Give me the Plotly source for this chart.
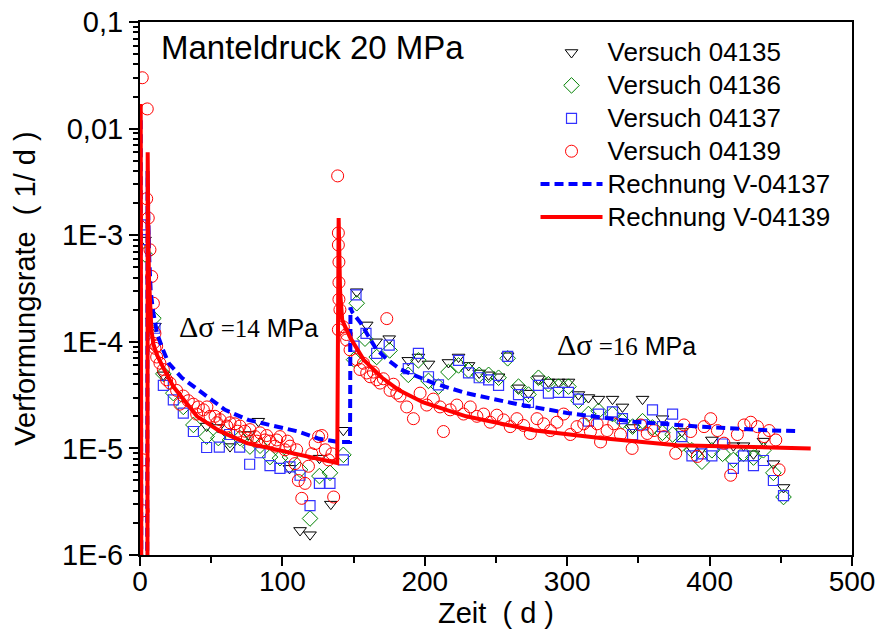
import plotly.graph_objects as go

# ---------------- data ----------------
t_04135 = [3.5, 10.5, 16.4, 46.8, 55, 63.2, 76, 83.1, 105, 112.4, 119.4, 126, 134, 142.8,
           152.2, 159.2, 165.8, 175, 188.4, 195.5, 202.6, 216.6, 223.7, 230.7, 238.2, 244.8,
           251.8, 258.2, 265.8, 272.8, 279.8, 286.8, 293.9, 300.9, 307.9, 314.9, 322, 331.8,
           338.8, 345.9, 352.9, 366.9, 380.5, 387.6, 394.6, 401.6, 416.7, 423.8, 430.8, 437.8,
           444.8, 451.9]
r_04135 = [9e-4, 1.4e-4, 4.9e-5, 1.62e-5, 1.57e-5, 1.04e-5, 1.35e-5, 1.8e-5, 6.5e-6, 1.7e-6,
           1.55e-6, 8.1e-6, 3.0e-6, 1.48e-5, 2.95e-4, 1.44e-4, 1.0e-4, 1.07e-4, 6.7e-5, 7.2e-5,
           6.2e-5, 6.4e-5, 7.2e-5, 6.0e-5, 5.1e-5, 4.9e-5, 4.7e-5, 7.4e-5, 3.7e-5, 3.3e-5,
           4.5e-5, 4.2e-5, 4.2e-5, 4.2e-5, 3.2e-5, 3.0e-5, 2.9e-5, 2.9e-5, 2.45e-5, 1.57e-5,
           2.9e-5, 1.9e-5, 1.44e-5, 1.0e-5, 1.0e-5, 1.2e-5, 1.06e-5, 1.06e-5, 8.9e-6, 1.17e-5,
           7.2e-6, 4.3e-6]

t_04136 = [3.5, 9.4, 16.4, 23.4, 30.4, 37.5, 46.8, 55, 63.2, 70.2, 77.2, 84.3, 91.3, 98.3,
           105.3, 112.4, 119.4, 126, 133.4, 142.8, 150.3, 152.2, 158, 166.2, 175.3, 188.4,
           195.5, 202.6, 209.6, 216.6, 223.7, 230.7, 238.2, 244.8, 251.8, 258.2, 265.8, 272.8,
           279.8, 286.8, 293.9, 300.9, 307.9, 314.9, 322, 331.8, 338.8, 345.9, 352.9, 359.9,
           366.9, 374, 380.5, 387.6, 394.6, 401.6, 409.1, 416.7, 423.8, 430.8, 437.8, 444.8,
           451.9]
r_04136 = [6.6e-4, 1.66e-4, 5.0e-5, 3.3e-5, 2.45e-5, 1.66e-5, 1.29e-5, 1.25e-5, 1.2e-5,
           1.25e-5, 1.04e-5, 1.06e-5, 8.3e-6, 8.1e-6, 8.3e-6, 6.3e-6, 2.2e-6, 5.5e-6, 5.9e-6,
           8.7e-6, 6.8e-5, 2.3e-4, 1.07e-4, 7.2e-5, 8.3e-5, 4.9e-5, 6.7e-5, 4.3e-5, 3.8e-5,
           5.2e-5, 6.0e-5, 5.4e-5, 4.9e-5, 4.9e-5, 4.6e-5, 7.0e-5, 3.8e-5, 3.2e-5, 4.6e-5,
           4.0e-5, 3.8e-5, 3.8e-5, 2.8e-5, 2.1e-5, 2.25e-5, 2.1e-5, 1.8e-5, 1.6e-5, 1.8e-5,
           1.57e-5, 1.4e-5, 1.35e-5, 1.1e-5, 9.6e-6, 7.5e-6, 9.6e-6, 8.9e-6, 7.8e-6, 8.9e-6,
           8.2e-6, 9.6e-6, 5.9e-6, 3.5e-6]

t_04137 = [2.3, 3.5, 10.5, 16.4, 23.4, 30.4, 37.5, 46.8, 55.7, 62.9, 70, 77, 84.3, 91.3,
           98.3, 105.3, 112.4, 119.4, 126, 133.4, 142.8, 150.3, 151.7, 158.7, 166.2, 175,
           188.4, 195.5, 202.6, 209.6, 223.7, 230.7, 238.2, 244.8, 251.8, 258.2, 265.8, 272.8,
           279.8, 286.8, 293.9, 300.9, 307.9, 314.9, 322, 331.8, 338.8, 345.9, 352.9, 359.9,
           366.9, 374, 380.5, 387.6, 394.6, 401.6, 409.1, 416.7, 423.8, 430.8, 437.8, 444.8,
           451.9]
r_04137 = [1.25e-3, 9.1e-4, 1.34e-4, 3.9e-5, 2.85e-5, 2.14e-5, 1.44e-5, 1.02e-5, 1.03e-5,
           1.35e-5, 1.03e-5, 7.1e-6, 9.1e-6, 6.9e-6, 6.5e-6, 6.7e-6, 5.6e-6, 2.9e-6, 4.7e-6,
           4.7e-6, 7.8e-6, 9.1e-5, 2.75e-4, 1.2e-4, 7.8e-5, 9.3e-5, 5.6e-5, 7.8e-5, 4.7e-5,
           3.95e-5, 6.7e-5, 5.1e-5, 4.6e-5, 4.4e-5, 3.9e-5, 7.3e-5, 3.2e-5, 2.7e-5, 3.9e-5,
           3.3e-5, 3.35e-5, 3.35e-5, 2.9e-5, 1.8e-5, 2.1e-5, 2.2e-5, 1.9e-5, 1.35e-5, 1.66e-5,
           2.3e-5, 1.6e-5, 2.1e-5, 1.29e-5, 8.5e-6, 8.9e-6, 8.5e-6, 1.1e-5, 6.5e-6, 8.5e-6,
           6.9e-6, 7.7e-6, 5.0e-6, 3.6e-6]

t_04139 = [1.6, 5.1, 4.7, 5.8, 7, 8.2, 9.4, 10.5, 11.7, 2.3, 2.3,
           9.4, 10.5, 11.7, 14, 16.4, 18.7, 21.1, 25.7, 28, 30.4, 33.9, 37.5, 39.8, 41, 44.5,
           47, 49.2, 52.7, 54, 56.2, 59.7, 61, 63.2, 66.7, 68.5, 70.2, 73.7, 75.4, 77.2, 80.8,
           82, 84.3, 87.8, 89, 91.3, 94.8, 96, 98.3, 101.8, 103.5, 105.3, 108.8, 110, 111.2,
           113.6, 115.9, 118.3, 120.6, 123, 125.4, 127.7, 130.1, 132.4, 134.8, 136,
           138.8, 139.3, 139.3, 139.7, 139.7, 139.7, 140.4, 139.3, 145, 173.3,
           142.8, 145.1, 147.5, 152.2, 154.5, 156.9, 159.2, 161.6, 163.9, 166.2, 168.6, 170.9,
           175.6, 178, 180.3,
           182.6, 187.3, 192, 196.7, 201.4, 206, 210.7, 213.1, 217.8, 222.5, 227.2, 231.9,
           236.6, 241.3, 245.9, 250.6, 255.3, 260, 264.7, 269.4, 274.1, 278.8, 283.5, 288.2,
           292.8, 297.5, 302.2, 306.9, 311.6, 316.3, 321, 323.4, 328, 332.7, 337.4, 345.6,
           351.5, 356.2, 360.9, 368, 376.2, 382, 386.7, 391.4, 396.1, 400.8, 405.5, 410.1,
           414.8, 419.5, 424.2, 428.9, 433.6, 438.3, 441.8, 446.5, 448.8]
r_04139 = [3.0e-2, 1.53e-2, 2.2e-3, 1.45e-3, 7.3e-4, 4.1e-4, 2.3e-4, 1.2e-4, 9.1e-5, 7.8e-6, 2.6e-6,
           9.7e-5, 8.7e-5, 7.2e-5, 6.3e-5, 5.5e-5, 4.4e-5, 4.1e-5, 3.5e-5, 2.6e-5, 3.1e-5,
           2.8e-5, 2.6e-5, 2.1e-5, 2.45e-5, 2.3e-5, 2.45e-5, 2.0e-5, 2.0e-5, 1.74e-5, 1.86e-5,
           2.0e-5, 1.62e-5, 1.74e-5, 1.7e-5, 1.45e-5, 1.62e-5, 1.45e-5, 1.25e-5, 1.5e-5,
           1.29e-5, 1.17e-5, 1.4e-5, 1.2e-5, 1.32e-5, 1.17e-5, 1.05e-5, 1.2e-5, 1.29e-5,
           9.7e-6, 1.17e-5, 1.05e-5, 7.2e-6, 9.7e-6, 5.0e-6, 3.4e-6, 4.7e-6, 6.8e-6, 8.9e-6,
           1.11e-5, 1.29e-5, 1.32e-5, 9.7e-6, 7.8e-6, 8.9e-6, 3.5e-6,
           3.6e-3, 1.05e-3, 8.1e-4, 5.6e-4, 3.6e-4, 2.5e-4, 2.0e-4, 1.3e-4, 1.17e-4, 1.65e-4,
           1.38e-4, 1.04e-4, 8.4e-5, 6.8e-5, 5.5e-5, 6.3e-5, 5.1e-5, 4.7e-5, 5.2e-5, 4.4e-5,
           4.1e-5, 4.5e-5, 3.5e-5, 4.0e-5, 3.3e-5,
           3.1e-5, 2.45e-5, 1.9e-5, 3.3e-5, 2.55e-5, 2.9e-5, 2.45e-5, 1.44e-5, 2.3e-5, 2.55e-5,
           2.1e-5, 2.45e-5, 2.0e-5, 2.1e-5, 1.76e-5, 2.05e-5, 1.85e-5, 1.6e-5, 1.9e-5, 1.64e-5,
           1.38e-5, 1.9e-5, 1.7e-5, 1.47e-5, 1.76e-5, 2.1e-5, 1.35e-5, 1.6e-5, 1.7e-5, 1.44e-5,
           1.7e-5, 1.15e-5, 1.47e-5, 1.7e-5, 1.35e-5, 1.0e-5, 1.66e-5, 1.38e-5, 1.47e-5,
           1.29e-5, 9.0e-6, 1.66e-5, 1.44e-5, 8.4e-6, 1.6e-5, 1.9e-5, 1.47e-5, 1.12e-5, 5.6e-6,
           1.35e-5, 1.66e-5, 1.76e-5, 1.6e-5, 1.29e-5, 1.47e-5, 1.2e-5, 6.3e-6]

t_calc_04137 = [0.5, 1.0, 5.0, 5.3, 5.8, 6.5, 7.5, 9, 12, 16, 20.1, 29.4, 43.4, 59.7, 76, 94.7,
                111, 125, 139, 147.5, 147.8, 149, 155, 160, 166, 175, 183, 206, 229, 265, 300,
                347, 393, 440, 463]
r_calc_04137 = [1.2e-2, 1e-7, 1e-7, 4e-3, 1.5e-3, 6e-4, 3e-4, 2e-4, 1.2e-4, 8.5e-5, 6.3e-5,
                4.6e-5, 3.3e-5, 2.3e-5, 1.85e-5, 1.6e-5, 1.44e-5, 1.24e-5, 1.15e-5, 1.15e-5,
                2.1e-4, 1.9e-4, 1.5e-4, 1.15e-4, 8.5e-5, 6.6e-5, 5.5e-5, 4.1e-5, 3.3e-5, 2.6e-5,
                2.15e-5, 1.78e-5, 1.6e-5, 1.48e-5, 1.45e-5]

t_calc_04139 = [0.5, 1.0, 5.2, 5.4, 5.8, 6.3, 7, 8, 9.4, 12, 16.4, 23.4, 40, 56, 75, 110, 138.5,
                139.5, 140.5, 142, 147.5, 157, 170, 182, 199, 229, 276, 323, 377, 471]
r_calc_04139 = [1.7e-2, 1e-7, 1e-7, 6e-3, 1.2e-3, 4e-4, 2e-4, 1.3e-4, 9.5e-5, 7.5e-5, 5.7e-5,
                3.8e-5, 2.0e-5, 1.45e-5, 1.12e-5, 8.8e-6, 7.3e-6, 1.45e-3, 3e-4, 1.6e-4, 1.1e-4,
                6.8e-5, 4.6e-5, 3.5e-5, 2.7e-5, 2.0e-5, 1.48e-5, 1.25e-5, 1.07e-5, 1.0e-5]

y_tickvals = [1e-6, 1e-5, 1e-4, 1e-3, 1e-2, 1e-1]
y_ticktext = ["1E-6", "1E-5", "1E-4", "1E-3", "0,01", "0,1"]

FONT = "Liberation Sans, Arial, sans-serif"
SERIF = "Liberation Serif"
NBSP = "\u00a0"


def leg(name):
    return f"<span style=\"font-size:26px\">{name}</span>"


fig = go.Figure()
fig.add_trace(go.Scatter(x=t_04135, y=r_04135, mode="markers", name=leg("Versuch 04135"),
                         marker=dict(symbol="triangle-down-open", size=11, color="black",
                                     line=dict(width=1))))
fig.add_trace(go.Scatter(x=t_04136, y=r_04136, mode="markers", name=leg("Versuch 04136"),
                         marker=dict(symbol="diamond-open", size=12, color="#008000",
                                     line=dict(width=1))))
fig.add_trace(go.Scatter(x=t_04137, y=r_04137, mode="markers", name=leg("Versuch 04137"),
                         marker=dict(symbol="square-open", size=10, color="#3333ff",
                                     line=dict(width=1.2))))
fig.add_trace(go.Scatter(x=t_04139, y=r_04139, mode="markers", name=leg("Versuch 04139"),
                         marker=dict(symbol="circle-open", size=12, color="#ff0000",
                                     line=dict(width=1))))
fig.add_trace(go.Scatter(x=t_calc_04137, y=r_calc_04137, mode="lines", name=leg("Rechnung V-04137"),
                         line=dict(color="#0000ff", width=4, dash="9px,5px")))
fig.add_trace(go.Scatter(x=t_calc_04139, y=r_calc_04139, mode="lines", name=leg("Rechnung V-04139"),
                         line=dict(color="#ff0000", width=4)))


def dsig(val):
    return (f"<span style=\"font-family:{SERIF};font-size:30px\">Δσ</span>"
            f"<span style=\"font-family:{SERIF}\"> ={val}</span> MPa")


fig.update_layout(
    width=879, height=635,
    margin=dict(l=140, r=27, t=22, b=80),
    paper_bgcolor="white", plot_bgcolor="white",
    font=dict(family=FONT, color="black"),
    showlegend=True,
    legend=dict(x=0.5555, y=0.983, xanchor="left", yanchor="top",
                bgcolor="rgba(0,0,0,0)", font=dict(size=23, family=FONT),
                itemwidth=62, tracegroupgap=0),
    xaxis=dict(range=[0, 500], dtick=100, tick0=0, showgrid=False, zeroline=False,
               automargin=False,
               showline=True, linecolor="black", linewidth=2, mirror=True,
               ticks="outside", ticklen=9, tickwidth=2, tickcolor="black",
               minor=dict(dtick=50, ticks="outside", ticklen=6, tickwidth=2, tickcolor="black"),
               tickfont=dict(size=28, family=FONT), ticklabelstandoff=-9,
               title=dict(text="Zeit  ( d )" + NBSP * 2, font=dict(size=29, family=FONT), standoff=0)),
    yaxis=dict(type="log", range=[-6, -1], tickmode="array", tickvals=y_tickvals,
               ticktext=y_ticktext, showgrid=False, zeroline=False, automargin=False,
               showline=True, linecolor="black", linewidth=2, mirror=True,
               ticks="outside", ticklen=9, tickwidth=2, tickcolor="black",
               minor=dict(dtick="D1", ticks="outside", ticklen=5, tickwidth=1.5, tickcolor="black"),
               tickfont=dict(size=29, family=FONT),
               title=dict(text="Verformungsrate  ( 1/ d )" + NBSP * 10,
                          font=dict(size=29, family=FONT), standoff=18)),
    annotations=[
        dict(text="Manteldruck 20 MPa", x=0.0265, y=0.953, xref="paper", yref="paper",
             xanchor="left", yanchor="middle", showarrow=False,
             font=dict(size=33, family=FONT)),
        dict(text=dsig(14), x=0.152, y=0.428, xref="paper", yref="paper",
             xanchor="center", yanchor="middle", showarrow=False, font=dict(size=25, family=FONT)),
        dict(text=dsig(16), x=0.683, y=0.394, xref="paper", yref="paper",
             xanchor="center", yanchor="middle", showarrow=False, font=dict(size=25, family=FONT)),
    ],
)

fig.write_html("out.html", config={"displayModeBar": False},
               post_script="document.body.style.margin='0';")
